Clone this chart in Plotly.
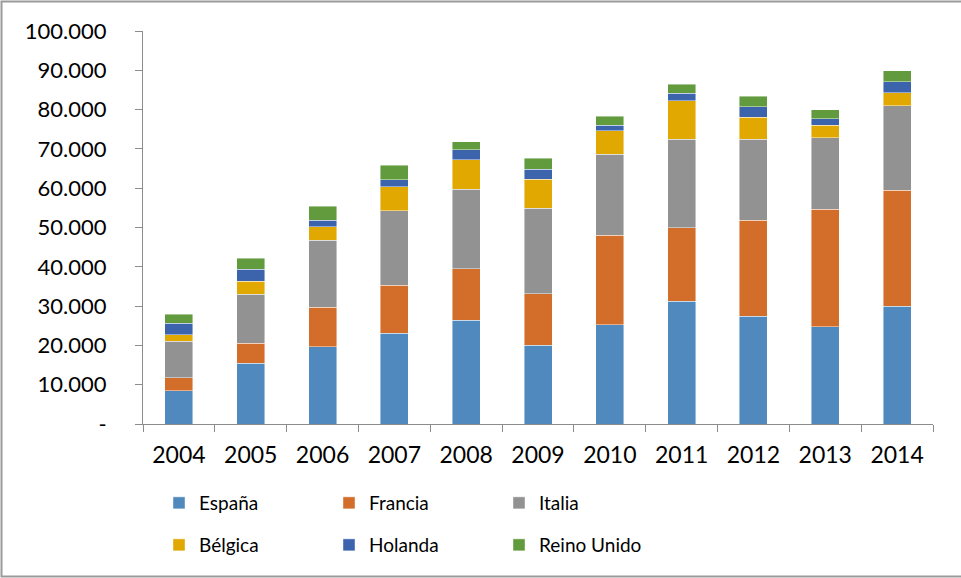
import plotly.graph_objects as go

# Years on the category axis
years = ["2004", "2005", "2006", "2007", "2008", "2009", "2010", "2011", "2012", "2013", "2014"]

# Stacked series, one value per year
espana = [8500, 15400, 19700, 23100, 26400, 20100, 25200, 31200, 27400, 24700, 30000]
francia = [3300, 5200, 10000, 12200, 13100, 13000, 22800, 18800, 24400, 29900, 29500]
italia = [9300, 12400, 17100, 19000, 20200, 21800, 20600, 22400, 20600, 18300, 21500]
belgica = [1600, 3300, 3400, 6100, 7500, 7400, 6000, 9900, 5700, 3100, 3300]
holanda = [2900, 3100, 1700, 1800, 2600, 2500, 1400, 1800, 2600, 1700, 2800]
reino_unido = [2300, 2800, 3500, 3600, 2000, 2800, 2300, 2400, 2700, 2300, 2800]

# Y axis ticks with dot thousands separator and a dash for zero
y_tickvals = [0, 10000, 20000, 30000, 40000, 50000, 60000, 70000, 80000, 90000, 100000]
y_ticktext = ["-", "10.000", "20.000", "30.000", "40.000", "50.000",
              "60.000", "70.000", "80.000", "90.000", "100.000"]

series = [
    ("España", espana, "#4F89BD", "legend"),
    ("Francia", francia, "#D26E2A", "legend"),
    ("Italia", italia, "#929292", "legend"),
    ("Bélgica", belgica, "#E0A800", "legend2"),
    ("Holanda", holanda, "#3C64AD", "legend2"),
    ("Reino Unido", reino_unido, "#629B3E", "legend2"),
]

FONT = "Lato, 'Open Sans', sans-serif"
AXIS_GRAY = "#8C8C8C"

W, H = 961, 578
ML, MR, MT, MB = 143, 28, 31, 154
PW = W - ML - MR
PH = H - MT - MB


def px_to_paper_x(px):
    return (px - ML) / PW


def px_to_paper_y(py):
    return (H - MB - py) / PH


fig = go.Figure()
for name, vals, color, leg in series:
    fig.add_trace(go.Bar(
        x=years, y=vals, name=name, legend=leg,
        marker=dict(color=color, line=dict(color="rgba(255,255,255,0.55)", width=0.8)),
    ))

legend_common = dict(
    orientation="h",
    entrywidth=125, entrywidthmode="pixels",
    font=dict(family=FONT, size=19, color="#000000"),
    bgcolor="rgba(0,0,0,0)",
    xanchor="left", yanchor="middle",
    traceorder="normal",
)

fig.update_layout(
    width=W, height=H,
    margin=dict(l=ML, r=MR, t=MT, b=MB, pad=0),
    paper_bgcolor="white", plot_bgcolor="white",
    barmode="stack", bargap=0.61,
    font=dict(family=FONT, color="#000000"),
    showlegend=True,
    legend=dict(x=px_to_paper_x(159), y=px_to_paper_y(503), **legend_common),
    legend2=dict(x=px_to_paper_x(159), y=px_to_paper_y(545), **legend_common),
    xaxis=dict(
        type="category",
        showline=True, linecolor=AXIS_GRAY, linewidth=1,
        ticks="outside", tickson="boundaries", ticklen=7, tickcolor=AXIS_GRAY,
        tickfont=dict(family=FONT, size=23, color="#000000"),
        ticklabelstandoff=10,
        showgrid=False, zeroline=False,
    ),
    yaxis=dict(
        range=[0, 100000],
        tickvals=y_tickvals, ticktext=y_ticktext,
        showline=True, linecolor=AXIS_GRAY, linewidth=1,
        ticks="outside", ticklen=7, tickcolor=AXIS_GRAY,
        tickfont=dict(family=FONT, size=22, color="#000000"),
        ticklabelstandoff=24,
        showgrid=False, zeroline=False,
    ),
    shapes=[
        dict(
            type="rect", xref="paper", yref="paper",
            x0=px_to_paper_x(1.5), x1=px_to_paper_x(970),
            y0=px_to_paper_y(576.5), y1=px_to_paper_y(1.5),
            line=dict(color="#9A9A9A", width=2), fillcolor="rgba(0,0,0,0)",
            layer="below",
        )
    ],
)

fig.write_html("out.html")
